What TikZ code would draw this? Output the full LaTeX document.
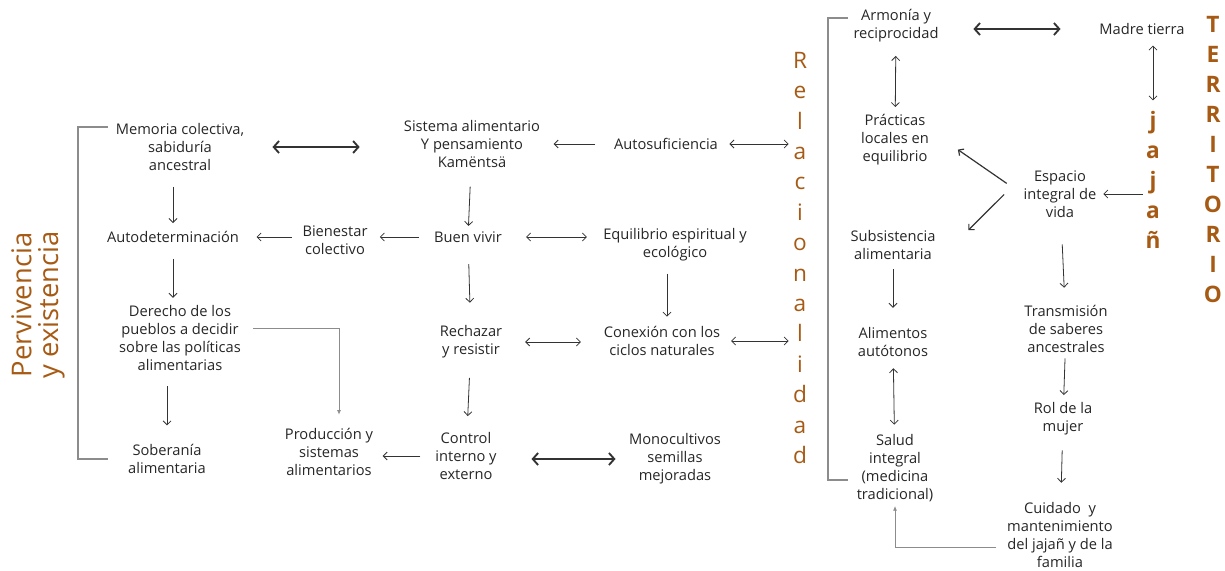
\documentclass[tikz,border=0pt]{standalone}
\usepackage{fontspec}
\setmainfont{Open Sans}
\usepackage{tikz}
\usetikzlibrary{arrows.meta, positioning}
\definecolor{tierra}{HTML}{A65A14}
\definecolor{trazo}{HTML}{333333}
\definecolor{texto}{HTML}{262626}
\definecolor{marco}{HTML}{8C8C8C}
\tikzset{
    concept/.style={align=center, text=texto, inner sep=1pt, font=\fontsize{11}{13.5}\selectfont},
    vword/.style={align=center, text=tierra, inner sep=0pt, font=\fontsize{17}{22.8}\selectfont},
    arrow/.style={draw=trazo, -{Straight Barb[length=3pt,width=6pt]}, line width=0.6pt},
    biarrow/.style={draw=trazo, {Straight Barb[length=3pt,width=6pt]}-{Straight Barb[length=3pt,width=6pt]}, line width=0.6pt},
    boldarrow/.style={draw=trazo, {Straight Barb[length=4pt,width=9pt]}-{Straight Barb[length=4pt,width=9pt]}, line width=1.4pt},
    link/.style={draw=marco, -{Latex[length=3.5pt,width=3pt]}, line width=0.6pt},
    bracket/.style={draw=marco, line width=0.9pt},
}

\begin{document}
\begin{tikzpicture}[x=0.75pt, y=-0.75pt]
    \useasboundingbox (0,0) rectangle (1225,571);

    % titles
    \node [text=tierra, rotate=90, align=center, font=\fontsize{20.5}{20}\selectfont] (perv) at (38,305) {Pervivencia\\y existencia};
    \node [vword] (rel) at (800,258) {R\\e\\l\\a\\c\\i\\o\\n\\a\\l\\i\\d\\a\\d};
    \node [vword, font=\fontsize{17}{22.5}\bfseries] (jajan) at (1153,180) {j\\a\\j\\a\\ñ};
    \node [vword, font=\fontsize{17}{22.5}\bfseries] (terr) at (1213,160) {T\\E\\R\\R\\I\\T\\O\\R\\I\\O};

    % pervivencia
    \node [concept] (memoria) at (180,147) {Memoria colectiva,\\sabiduría\\ancestral};
    \node [concept] (autodet) at (173,237) {Autodeterminación};
    \node [concept] (derecho) at (180,338) {Derecho de los\\pueblos a decidir\\sobre las políticas\\alimentarias};
    \node [concept] (soberania) at (167,459) {Soberanía\\alimentaria};
    \node [concept] (produccion) at (329,452) {Producción y\\sistemas\\alimentarios};
    \node [concept] (bienestar) at (335,240) {Bienestar\\colectivo};

    % buen vivir
    \node [concept] (sistema) at (472,144) {Sistema alimentario\\Y pensamiento\\Kamëntsä};
    \node [concept] (autosuf) at (666,144) {Autosuficiencia};
    \node [concept] (buen) at (468,237) {Buen vivir};
    \node [concept] (equil) at (675,245) {Equilibrio espiritual y\\ecológico};
    \node [concept] (rechazar) at (471,342) {Rechazar\\y resistir};
    \node [concept] (conexion) at (662,341) {Conexión con los\\ciclos naturales};
    \node [concept] (control) at (466,456) {Control\\interno y\\externo};
    \node [concept] (mono) at (675,459) {Monocultivos\\semillas\\mejoradas};

    % territorio
    \node [concept] (armonia) at (896,26) {Armonía y\\reciprocidad};
    \node [concept] (madre) at (1142,29) {Madre tierra};
    \node [concept] (practicas) at (895,140) {Prácticas\\locales en\\equilibrio};
    \node [concept] (espacio) at (1060,194) {Espacio\\integral de\\vida};
    \node [concept] (subsis) at (893,245) {Subsistencia\\alimentaria};
    \node [concept] (alimentos) at (893,342) {Alimentos\\autótonos};
    \node [concept] (salud) at (895,468) {Salud\\integral\\(medicina\\tradicional)};
    \node [concept] (transm) at (1066,329) {Transmisión\\de saberes\\ancestrales};
    \node [concept] (rol) at (1063,419) {Rol de la\\mujer};
    \node [concept] (cuidado) at (1060,535) {Cuidado~ y\\mantenimiento\\del jajañ y de la\\familia};

    % brackets
    \draw [bracket] (108,127) -| (78,459) -- (108,459);
    \draw [bracket] (848,18) -| (828,480) -- (848,480);

    % left part
    \draw [boldarrow, shorten <=20pt, shorten >=32pt] (memoria) -- (memoria -| sistema.west);
    \draw [arrow, shorten <=11pt, shorten >=5pt] (autodet |- memoria.south) -- (autodet);
    \draw [arrow, shorten <=11pt, shorten >=4.5pt] (autodet) -- (autodet |- derecho.north);
    \draw [arrow, shorten <=10.5pt, shorten >=13pt] (soberania |- derecho.south) -- (soberania);
    \draw [arrow, shorten <=7pt, shorten >=12pt] (autodet -| bienestar.west) -- (autodet);
    \draw [link, shorten <=8pt, shorten >=9pt] ([yshift=7pt]derecho.east) -| ([xshift=7.5pt]produccion.north);

    % middle part
    \draw [arrow, shorten <=13pt, shorten >=9pt] (autosuf) -- (sistema);
    \draw [biarrow, shorten <=7.5pt, shorten >=3pt] (autosuf) -- (autosuf -| rel.west);
    \draw [arrow, shorten <=10.5pt, shorten >=8pt] (buen) -- (buen -| bienestar.east);
    \draw [arrow, shorten <=13pt, shorten >=3pt] (sistema) -- (buen);
    \draw [biarrow, shorten <=17pt, shorten >=11pt] (buen) -- (buen -| equil.west);
    \draw [arrow, shorten <=8pt, shorten >=6pt] ([xshift=-6pt]equil.south) -- ([xshift=-6pt]equil.south |- conexion.north);
    \draw [arrow, shorten <=15pt, shorten >=16pt] (buen) -- (rechazar);
    \draw [biarrow, shorten <=16pt, shorten >=16pt] (rechazar) -- (rechazar -| conexion.west);
    \draw [biarrow, shorten <=7pt, shorten >=3pt] (conexion) -- (conexion -| rel.west);
    \draw [arrow, shorten <=13.5pt, shorten >=11pt] (rechazar) -- (control);
    \draw [arrow, shorten <=10pt, shorten >=6pt] (control) -- (control -| produccion.east);
    \draw [boldarrow, shorten <=25pt, shorten >=9pt] (mono -| control.east) -- (mono);

    % right part
    \draw [boldarrow, shorten <=25pt, shorten >=28pt] (madre -| armonia.east) -- (madre);
    \draw [biarrow, shorten <=7pt, shorten >=8pt] (jajan.north |- madre.south) -- (jajan.north);
    \draw [biarrow, shorten <=9pt, shorten >=4.5pt] (armonia) -- (practicas);
    \draw [arrow, line width=0.9pt, shorten <=14pt, shorten >=25pt] (espacio.west) -- ([yshift=7pt]practicas.east);
    \draw [arrow, line width=0.9pt, shorten <=19pt, shorten >=33pt] ([yshift=13pt]espacio.west) -- (subsis.south east);
    \draw [arrow, shorten <=2pt, shorten >=4pt] (espacio -| jajan.west) -- (espacio);
    \draw [arrow, shorten <=19pt, shorten >=12pt] (espacio) -- (transm);
    \draw [arrow, shorten <=6pt, shorten >=13.5pt] (subsis) -- (alimentos);
    \draw [biarrow, shorten <=7.5pt, shorten >=6pt] (alimentos) -- (salud);
    \draw [arrow, shorten <=3pt, shorten >=4.5pt] (transm) -- (rol);
    \draw [arrow, shorten <=10pt, shorten >=13.5pt] (rol) -- (cuidado);
    \draw [link, shorten <=7pt, shorten >=2pt] ([yshift=-9pt]cuidado.west) -| (salud.south);
\end{tikzpicture}
\end{document}
